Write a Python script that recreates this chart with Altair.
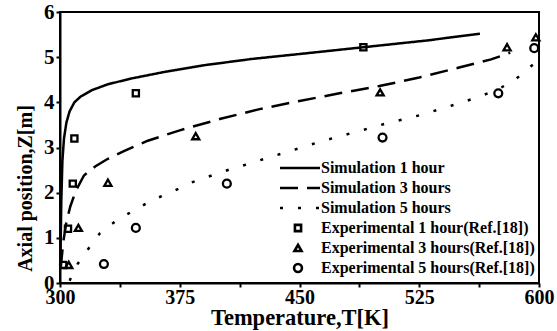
import altair as alt
import pandas as pd

# ---- data ----
sim1_T = [300.3, 300.8, 301.5, 302.5, 304, 306, 309, 313, 320, 330, 345, 365, 390, 420, 450, 490, 530, 563]
sim1_Z = [0.6, 1.8, 2.7, 3.2, 3.55, 3.8, 4.0, 4.13, 4.27, 4.4, 4.53, 4.67, 4.82, 4.96, 5.07, 5.22, 5.37, 5.52]

sim3_T = [300.5, 302, 304, 306.5, 310, 315, 322, 330, 340, 355, 375, 400, 425, 450, 475, 500, 525, 550, 570, 582]
sim3_Z = [0.35, 0.9, 1.35, 1.7, 2.05, 2.38, 2.58, 2.75, 2.92, 3.15, 3.38, 3.63, 3.85, 4.03, 4.2, 4.36, 4.55, 4.77, 4.95, 5.1]

sim5_T = [306, 311, 318, 325, 336, 347, 358, 371, 382, 395, 406, 420, 442, 465, 491, 502, 527, 551, 563, 575, 585, 595, 600]
sim5_Z = [0.05, 0.42, 0.77, 1.1, 1.4, 1.62, 1.84, 2.03, 2.22, 2.38, 2.51, 2.66, 2.9, 3.15, 3.4, 3.51, 3.73, 3.99, 4.13, 4.3, 4.5, 4.8, 4.95]

exp1_T = [302, 305, 308, 309, 347.5, 490]
exp1_Z = [0.4, 1.2, 2.2, 3.2, 4.2, 5.22]

exp3_T = [305.5, 311.5, 330, 385, 500.5, 580, 598]
exp3_Z = [0.4, 1.22, 2.22, 3.25, 4.22, 5.22, 5.44]

exp5_T = [327.5, 347.5, 404.5, 502, 574.5, 597]
exp5_Z = [0.42, 1.22, 2.2, 3.22, 4.2, 5.2]

sim_names = ["Simulation 1 hour", "Simulation 3 hours", "Simulation 5 hours"]
exp_names = ["Experimental 1 hour(Ref.[18])", "Experimental 3 hours(Ref.[18])",
             "Experimental 5 hours(Ref.[18])"]

x_ticks = [300, 337.5, 375, 412.5, 450, 487.5, 525, 562.5, 600]
y_ticks = [0, 0.5, 1, 1.5, 2, 2.5, 3, 3.5, 4, 4.5, 5, 5.5, 6]

FONT = "Liberation Serif"

# ---- layout helpers (pixel geometry of plot area) ----
PW, PH = 479, 271


def px_to_T(px):
    return 300 + (px - 60) * 300 / PW


def py_to_Z(py):
    return (283 - py) * 6 / PH


# ---- tables ----
sim_rows = []
for name, Ts, Zs in zip(sim_names, [sim1_T, sim3_T, sim5_T], [sim1_Z, sim3_Z, sim5_Z]):
    for i, (t, z) in enumerate(zip(Ts, Zs)):
        sim_rows.append({"series": name, "T": t, "Z": z, "order": i})
sim_df = pd.DataFrame(sim_rows)

exp_rows = []
for name, Ts, Zs in zip(exp_names, [exp1_T, exp3_T, exp5_T], [exp1_Z, exp3_Z, exp5_Z]):
    for t, z in zip(Ts, Zs):
        exp_rows.append({"series": name, "T": t, "Z": z})
exp_df = pd.DataFrame(exp_rows)

row_py = [168 + 20 * i for i in range(6)]
leg_line_df = pd.DataFrame({
    "series": sim_names,
    "T": [px_to_T(280)] * 3,
    "T2": [px_to_T(320)] * 3,
    "Z": [py_to_Z(p) for p in row_py[:3]],
})
leg_pt_df = pd.DataFrame({
    "series": exp_names,
    "T": [px_to_T(298)] * 3,
    "Z": [py_to_Z(p) for p in row_py[3:]],
})
leg_txt_df = pd.DataFrame({
    "label": sim_names + exp_names,
    "T": [px_to_T(321)] * 6,
    "Z": [py_to_Z(p) for p in row_py],
})

x_scale = alt.Scale(domain=[300, 600], nice=False, zero=False)
y_scale = alt.Scale(domain=[0, 6], nice=False, zero=True)
dash_scale = alt.Scale(domain=sim_names, range=[[1, 0], [18, 9], [3, 15]])
shape_scale = alt.Scale(domain=exp_names, range=["square", "triangle-up", "circle"])
size_scale = alt.Scale(domain=exp_names, range=[38, 62, 46])

x_axis = alt.Axis(
    values=x_ticks, format="d",
    labelExpr="datum.value % 75 == 0 ? datum.label : ''",
    title="Temperature,T[K]", grid=False, titleFontSize=22.5, titlePadding=-1,
    labelFontSize=20, labelPadding=0,
)
y_axis = alt.Axis(
    values=y_ticks, format="d",
    labelExpr="datum.value % 1 == 0 ? datum.label : ''",
    title="Axial position,Z[m]", grid=False, titleY=176, titleFontSize=20,
    titlePadding=8, labelFontSize=21, labelPadding=2,
)

lines = alt.Chart(sim_df).mark_line(color="black", strokeWidth=2.5).encode(
    x=alt.X("T:Q", scale=x_scale, axis=x_axis),
    y=alt.Y("Z:Q", scale=y_scale, axis=y_axis),
    strokeDash=alt.StrokeDash("series:N", scale=dash_scale, legend=None),
    detail="series:N",
    order="order:Q",
)

points = alt.Chart(exp_df).mark_point(color="black", filled=False, strokeWidth=2.3, opacity=1).encode(
    x="T:Q", y="Z:Q",
    shape=alt.Shape("series:N", scale=shape_scale, legend=None),
    size=alt.Size("series:N", scale=size_scale, legend=None),
)

leg_lines = alt.Chart(leg_line_df).mark_rule(color="black", strokeWidth=2.5).encode(
    x="T:Q", x2="T2:Q", y="Z:Q",
    strokeDash=alt.StrokeDash("series:N", scale=dash_scale, legend=None),
)

leg_pts = alt.Chart(leg_pt_df).mark_point(color="black", filled=False, strokeWidth=2.6, opacity=1).encode(
    x="T:Q", y="Z:Q",
    shape=alt.Shape("series:N", scale=shape_scale, legend=None),
    size=alt.Size("series:N", scale=size_scale, legend=None),
)

leg_txt = alt.Chart(leg_txt_df).mark_text(
    align="left", baseline="middle", font=FONT, fontWeight="bold", fontSize=16, color="black"
).encode(x="T:Q", y="Z:Q", text="label:N")

chart = alt.layer(lines, points, leg_lines, leg_pts, leg_txt).properties(
    width=PW, height=PH,
    autosize=alt.AutoSizeParams(type="none"),
    padding={"left": 60, "top": 12, "right": 18, "bottom": 48},
).configure_view(
    stroke="black", strokeWidth=2,
).configure_axis(
    domainColor="black", domainWidth=2,
    tickColor="black", tickWidth=2, tickSize=4,
    labelFont=FONT, labelFontWeight="bold", labelColor="black",
    titleFont=FONT, titleFontWeight="bold", titleColor="black",
).configure_axisX(
    labelFlush=False,
).configure_axisY(
    labelFlush=False,
)

chart.save("out.html", embed_options={"renderer": "svg", "actions": False})
